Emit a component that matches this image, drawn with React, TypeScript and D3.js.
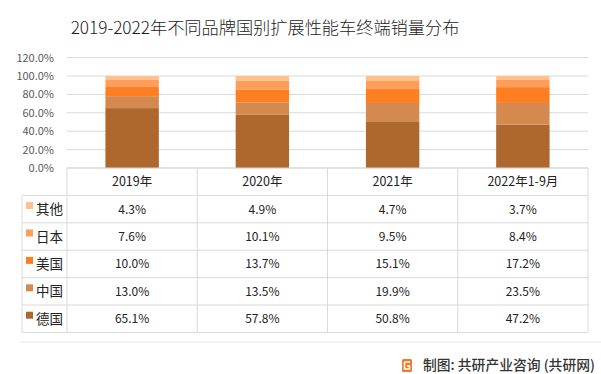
import React, { useEffect, useRef } from 'react';
import * as d3 from 'd3';

const years = ['2019年', '2020年', '2021年', '2022年1-9月'];
// bottom to top in the stack
const brands = ['德国', '中国', '美国', '日本', '其他'];
const deguo = [65.1, 57.8, 50.8, 47.2];
const zhongguo = [13.0, 13.5, 19.9, 23.5];
const meiguo = [10.0, 13.7, 15.1, 17.2];
const riben = [7.6, 10.1, 9.5, 8.4];
const qita = [4.3, 4.9, 4.7, 3.7];
const colors = ['#ae672d', '#d48a4e', '#fe7e22', '#ff9e5a', '#ffc08c'];
const yTicks = [0, 20, 40, 60, 80, 100, 120];

const seriesValues = [deguo, zhongguo, meiguo, riben, qita];
// table rows run top to bottom: 其他 ... 德国
const tableOrder = [4, 3, 2, 1, 0];

const App = () => {
  const ref = useRef<SVGSVGElement>(null);

  useEffect(() => {
    const svg = d3.select(ref.current);
    svg.selectAll('*').remove();

    const font = '"Noto Sans CJK SC", "Noto Sans", sans-serif';
    const left = 67,
      right = 588,
      top = 57.6,
      bottom = 168;
    const rowH = 27.4;
    const legendLeft = 22;

    svg.append('rect').attr('width', 601).attr('height', 374).attr('fill', '#fff');

    // title
    svg
      .append('text')
      .attr('x', 265)
      .attr('y', 34)
      .attr('text-anchor', 'middle')
      .attr('font-family', font)
      .attr('font-size', 17.2)
      .attr('font-weight', 300)
      .attr('fill', '#222')
      .text('2019-2022年不同品牌国别扩展性能车终端销量分布');

    const x = d3.scaleBand().domain(years).range([left, right]).paddingInner(0).paddingOuter(0);
    const y = d3.scaleLinear().domain([0, 120]).range([bottom, top]);

    // gridlines
    svg
      .append('g')
      .selectAll('line')
      .data(yTicks)
      .enter()
      .append('line')
      .attr('x1', left)
      .attr('x2', right)
      .attr('y1', (d) => y(d))
      .attr('y2', (d) => y(d))
      .attr('stroke', '#d9d9d9')
      .attr('stroke-width', 1);

    // y labels
    svg
      .append('g')
      .selectAll('text')
      .data(yTicks)
      .enter()
      .append('text')
      .attr('x', 54)
      .attr('y', (d) => y(d) + 4)
      .attr('text-anchor', 'end')
      .attr('font-family', font)
      .attr('font-size', 11)
      .attr('fill', '#595959')
      .text((d) => d.toFixed(1) + '%');

    // stacked bars
    const rows = years.map((yr, i) => {
      const r: any = { year: yr };
      brands.forEach((b, j) => (r[b] = seriesValues[j][i]));
      return r;
    });
    const stacked = d3.stack<any>().keys(brands)(rows);
    const barW = x.bandwidth() * 0.41;
    svg
      .append('g')
      .selectAll('g')
      .data(stacked)
      .enter()
      .append('g')
      .attr('fill', (d, i) => colors[i])
      .selectAll('rect')
      .data((d) => d)
      .enter()
      .append('rect')
      .attr('x', (d: any) => (x(d.data.year) ?? 0) + (x.bandwidth() - barW) / 2)
      .attr('y', (d) => y(d[1]))
      .attr('width', barW)
      .attr('height', (d) => y(d[0]) - y(d[1]));

    // data table
    const tableBottom = bottom + rowH * 6;
    const tg = svg.append('g').attr('stroke', '#d9d9d9').attr('stroke-width', 1);
    // horizontal lines
    for (let r = 0; r <= 6; r++) {
      const yy = bottom + r * rowH;
      tg.append('line')
        .attr('x1', r === 0 ? left : legendLeft)
        .attr('x2', right)
        .attr('y1', yy)
        .attr('y2', yy);
    }
    // vertical lines
    tg.append('line')
      .attr('x1', legendLeft)
      .attr('x2', legendLeft)
      .attr('y1', bottom + rowH)
      .attr('y2', tableBottom);
    [left, ...years.map((yr) => (x(yr) ?? 0) + x.bandwidth())].forEach((xx) => {
      tg.append('line').attr('x1', xx).attr('x2', xx).attr('y1', bottom).attr('y2', tableBottom);
    });

    // header
    svg
      .append('g')
      .selectAll('text')
      .data(years)
      .enter()
      .append('text')
      .attr('x', (d) => (x(d) ?? 0) + x.bandwidth() / 2)
      .attr('y', bottom + rowH / 2 + 4.5)
      .attr('text-anchor', 'middle')
      .attr('font-family', font)
      .attr('font-size', 12.5)
      .attr('fill', '#222')
      .text((d) => d);

    tableOrder.forEach((si, r) => {
      const cy = bottom + (r + 1) * rowH + rowH / 2;
      svg
        .append('rect')
        .attr('x', 26)
        .attr('y', cy - 7)
        .attr('width', 7)
        .attr('height', 7)
        .attr('fill', colors[si]);
      svg
        .append('text')
        .attr('x', 36)
        .attr('y', cy + 5)
        .attr('font-family', font)
        .attr('font-size', 13.5)
        .attr('fill', '#222')
        .text(brands[si]);
      svg
        .append('g')
        .selectAll('text')
        .data(seriesValues[si])
        .enter()
        .append('text')
        .attr('x', (d, i) => (x(years[i]) ?? 0) + x.bandwidth() / 2)
        .attr('y', cy + 4.5)
        .attr('text-anchor', 'middle')
        .attr('font-family', font)
        .attr('font-size', 12)
        .attr('fill', '#222')
        .text((d) => d.toFixed(1) + '%');
    });

    // footer
    svg
      .append('line')
      .attr('x1', 20)
      .attr('x2', 601)
      .attr('y1', 342)
      .attr('y2', 342)
      .attr('stroke', '#e6e6e6')
      .attr('stroke-width', 1);
    const logo = svg.append('g').attr('transform', 'translate(402,359)');
    logo.append('rect').attr('width', 10).attr('height', 13).attr('rx', 1.5).attr('fill', '#f07a2a');
    logo
      .append('path')
      .attr('d', 'M2.5,3 H8 M2.5,3 V10 H7.5 V7 H5')
      .attr('fill', 'none')
      .attr('stroke', '#fff')
      .attr('stroke-width', 1.6);
    svg
      .append('text')
      .attr('x', 423)
      .attr('y', 370)
      .attr('font-family', font)
      .attr('font-size', 13.8)
      .attr('font-weight', 500)
      .attr('fill', '#333')
      .text('制图: 共研产业咨询 (共研网)');
  }, []);

  return (
    <svg
      ref={ref}
      width={601}
      height={374}
      style={{ position: 'absolute', left: 0, top: 0, display: 'block' }}
    />
  );
};

export default App;
